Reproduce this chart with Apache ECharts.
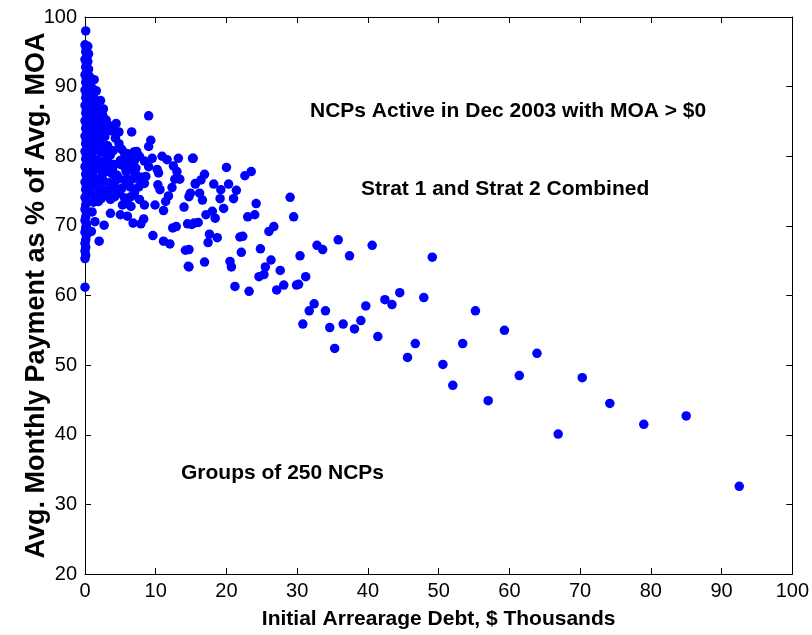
<!DOCTYPE html>
<html><head><meta charset="utf-8">
<script src="https://cdn.jsdelivr.net/npm/echarts@6/dist/echarts.min.js"></script>
<style>html,body{margin:0;padding:0;background:#fff}#c{width:812px;height:635px}</style>
</head><body><div id="c"></div>
<script>
// Tick labels
const xTicks = [0,10,20,30,40,50,60,70,80,90,100];
const yTicks = [20,30,40,50,60,70,80,90,100];

// Column of groups with nearly zero initial debt [debt $K, pct]
const stripPoints = [
 [0.1,98.0],[0.0,96.0],[0.2,95.5],[0.1,95.0],[0.3,94.4],[0.0,93.9],[0.2,93.3],[0.1,92.8],[0.3,92.2],[0.0,91.7],
 [0.2,91.1],[0.1,90.6],[0.3,90.0],[0.0,89.5],[0.2,88.9],[0.1,88.4],[0.3,87.8],[0.0,87.3],[0.2,86.7],[0.1,86.2],
 [0.3,85.6],[0.0,85.1],[0.2,84.5],[0.1,84.0],[0.3,83.4],[0.0,82.9],[0.2,82.3],[0.1,81.8],[0.3,81.2],[0.0,80.7],
 [0.2,80.1],[0.1,79.6],[0.3,79.0],[0.0,78.5],[0.2,77.9],[0.1,77.4],[0.3,76.8],[0.0,76.3],[0.2,75.7],[0.1,75.2],
 [0.3,74.6],[0.0,74.1],[0.2,73.5],[0.1,73.0],[0.0,72.4],[0.2,71.9],[0.1,71.3],[0.0,70.8],[0.2,70.2],[0.1,69.7],
 [0.0,69.1],[0.2,68.6],[0.1,68.0],[0.0,67.5],[0.1,66.9],[0.0,66.4],[0.1,65.8],[0.0,65.3],[0.0,61.2],
 [0.4,95.8],[0.5,94.7],[0.4,93.6],[0.5,92.5],[0.6,91.4],[0.4,90.3],[0.6,89.2],[0.5,88.1],[0.4,87.0],[0.5,85.9],
 [0.6,84.8],[0.4,83.7],[0.5,82.6],[0.6,81.5],[0.4,80.4],[0.5,79.3],[0.6,78.2],[0.4,77.1],[0.5,76.0],[0.4,74.9]
];

// Dense cloud at low debt
const densePoints = [
 [0.6,91.5],[0.8,90.6],[1.0,89.8],[0.7,89.0],[1.2,88.6],[0.9,88.0],[1.5,87.5],[0.6,87.2],[1.1,86.8],[1.8,86.2],
 [0.8,86.0],[1.4,85.6],[2.0,85.4],[0.7,85.0],[1.2,84.6],[1.7,84.2],[2.4,84.0],[0.9,83.8],[1.5,83.4],[2.1,83.0],
 [2.8,82.8],[0.6,82.6],[1.1,82.3],[1.8,82.0],[2.5,81.8],[3.2,81.5],[0.8,81.2],[1.4,80.9],[2.2,80.6],[2.9,80.4],
 [3.6,80.2],[0.6,80.0],[1.2,79.7],[1.9,79.4],[2.6,79.2],[3.4,79.0],[4.1,78.8],[0.9,78.6],[1.6,78.3],[2.3,78.0],
 [3.0,77.8],[3.8,77.5],[4.5,77.3],[0.7,77.2],[1.3,76.9],[2.0,76.6],[2.7,76.4],[3.5,76.2],[1.0,75.8],[1.7,75.5],
 [2.5,75.2],[3.3,75.0],[0.8,74.6],[1.5,74.2],[2.3,73.9],[1.2,73.4],[1.3,91.0],[1.6,89.4],[2.2,88.0],[2.6,86.8],
 [3.0,85.2],[3.4,84.4],[3.9,83.6],[4.3,82.6],[4.8,81.8],[5.2,81.0],[5.6,80.4],[4.0,80.8],[3.0,83.5],[2.7,84.8],
 [5.0,79.4],[5.5,78.6],[6.1,79.0],[4.8,76.8],[5.8,77.8],[6.6,78.0],[7.0,79.4],[3.9,78.2],[4.2,75.6],[5.2,75.4],
 [5.8,76.2],[6.4,75.6],[7.2,77.4],[2.8,74.6],[3.6,73.8],[4.6,74.8],[5.6,74.0],[6.0,73.2],[7.0,74.8],[7.6,75.6],
 [8.0,77.0],[6.8,76.8],[1.9,73.5],[2.0,67.8],[2.7,70.1],[3.6,71.8],[2.1,86.5],[2.5,85.9],[2.9,84.0],[4.4,84.7],
 [4.8,83.5],[6.6,83.5],[9.0,85.8],[9.3,82.3],[9.0,81.4],[9.5,79.7],[7.3,80.7],[5.9,80.4],[6.1,78.8],[6.9,80.6],
 [7.7,80.0],[6.0,80.0],[5.1,78.8],[7.2,78.3],[10.2,78.1],[10.4,77.6],[8.6,77.1],[7.8,76.6],[5.9,76.7],[8.4,76.1],
 [10.3,75.9],[10.6,75.2],[4.4,76.6],[3.7,75.7],[2.1,75.2],[1.8,73.5],[9.0,78.5],[8.4,79.3],[4.9,74.7],[4.2,74.2],
 [6.5,74.2],[7.7,73.8],[5.3,73.0],[6.5,72.8],[8.4,73.0],[9.9,73.0],[11.1,72.2],[11.4,73.5],[6.0,71.4],[5.0,71.6],
 [8.3,71.0],[7.9,70.3],[6.8,70.4],[9.6,68.6],[11.1,67.8],[12.0,67.4],[1.0,72.0],[1.4,70.6],[0.9,69.2],
 [1.0,85.3],[1.5,82.8],[1.0,80.8],[2.0,81.3],[1.3,78.0],[2.4,77.2],[1.6,86.9],[0.9,84.3],[3.2,79.8],[2.7,78.6]
];

// Mid-range spread
const spreadPoints = [
 [11.6,79.5],[13.2,79.7],[15.2,79.7],[13.0,77.8],[13.4,76.7],[12.7,76.7],[15.6,76.1],[14.9,74.7],[14.7,74.2],[14.0,72.7],
 [15.4,70.4],[14.5,70.3],[12.9,69.9],[12.4,69.7],[14.2,66.5],[14.6,64.2],[15.3,79.7],[20.0,78.4],[22.6,77.2],[23.5,77.8],
 [16.9,77.4],[16.4,76.6],[15.6,76.0],[16.2,74.7],[16.6,73.7],[18.2,76.0],[19.2,75.2],[20.3,76.0],[21.4,75.1],[19.1,73.9],
 [21.0,73.9],[24.2,73.2],[19.6,72.5],[29.0,74.1],[29.5,71.3],[17.1,71.6],[18.0,72.1],[18.4,71.1],[23.0,71.3],[24.0,71.6],
 [16.0,70.5],[15.1,70.2],[26.0,69.2],[26.7,69.9],[17.6,68.8],[18.7,68.3],[17.4,67.6],[21.9,68.4],[22.3,68.5],[24.8,66.7],
 [22.1,66.2],[14.7,66.6],[16.9,64.8],[14.7,64.1],[20.5,64.9],[20.7,64.1],[26.3,65.1],[25.5,64.1],[27.6,63.6],[24.6,62.7],
 [25.3,63.0],[21.2,61.3],[23.2,60.6],[27.1,60.8],[28.1,61.5],[29.9,61.5],[12.3,75.5],[11.8,74.3],[12.5,78.6],[10.9,80.0]
];

// High-debt tail
const tailPoints = [
 [35.8,68.0],[32.8,67.2],[33.6,66.6],[30.4,65.7],[37.4,65.7],[40.6,67.2],[49.1,65.5],[31.2,62.7],[30.2,61.6],[32.4,58.8],
 [31.7,57.8],[34.0,57.8],[30.8,55.9],[34.6,55.4],[36.5,55.9],[38.1,55.2],[39.0,56.4],[39.7,58.5],[35.3,52.4],[41.4,54.1],
 [42.4,59.4],[43.4,58.7],[44.5,60.4],[47.9,59.7],[46.7,53.1],[45.6,51.1],[50.6,50.1],[53.4,53.1],[55.2,57.8],[59.3,55.0],
 [52.0,47.1],[57.0,44.9],[63.9,51.7],[61.4,48.5],[70.3,48.2],[74.2,44.5],[66.9,40.1],[79.0,41.5],[85.0,42.7],[92.5,32.6]
];

const allPoints = stripPoints.concat(densePoints, spreadPoints, tailPoints);

const chart = echarts.init(document.getElementById('c'));
const black = '#000';
const sans = '"Liberation Sans", Arial, Helvetica, sans-serif';
const baseAxis = {
  min: 0, max: 100, interval: 10,
  axisLine: {show: true, onZero: false, lineStyle: {color: black, width: 1}},
  axisTick: {show: true, inside: true, length: 6, lineStyle: {color: black}},
  splitLine: {show: false}
};
chart.setOption({
  animation: false,
  backgroundColor: '#fff',
  grid: {left: 85, right: 15, top: 17, bottom: 61},
  xAxis: [
    Object.assign({}, baseAxis, {
      position: 'bottom',
      axisLabel: {color: black, fontFamily: sans, fontSize: 20, margin: 7,
        formatter: v => xTicks.includes(v) ? String(v) : ''},
      name: 'Initial Arrearage Debt, $ Thousands', nameLocation: 'middle', nameGap: 35,
      nameMoveOverlap: false,
      nameTextStyle: {color: black, fontFamily: sans, fontWeight: 'bold', fontSize: 21}
    }),
    Object.assign({}, baseAxis, {position: 'top', axisLabel: {show: false}})
  ],
  yAxis: [
    Object.assign({}, baseAxis, {
      min: 20, max: 100,
      position: 'left',
      axisLabel: {color: black, fontFamily: sans, fontSize: 20, margin: 8,
        formatter: v => yTicks.includes(v) ? String(v) : ''},
      name: 'Avg. Monthly Payment as % of Avg. MOA', nameLocation: 'middle', nameGap: 35,
      nameMoveOverlap: false,
      nameTextStyle: {color: black, fontFamily: sans, fontWeight: 'bold', fontSize: 27}
    }),
    Object.assign({}, baseAxis, {min: 20, max: 100, position: 'right', axisLabel: {show: false}})
  ],
  graphic: [
    {type: 'text', left: 310, top: 101, style: {text: 'NCPs Active in Dec 2003 with MOA > $0',
      fill: black, font: 'bold 21px "Liberation Sans", Arial, sans-serif'}},
    {type: 'text', left: 361, top: 179, style: {text: 'Strat 1 and Strat 2 Combined',
      fill: black, font: 'bold 21px "Liberation Sans", Arial, sans-serif'}},
    {type: 'text', left: 181, top: 463, style: {text: 'Groups of 250 NCPs',
      fill: black, font: 'bold 21px "Liberation Sans", Arial, sans-serif'}}
  ],
  series: [{
    type: 'scatter',
    xAxisIndex: 0, yAxisIndex: 0,
    data: allPoints,
    symbol: 'circle', symbolSize: 9.5,
    itemStyle: {color: '#0000FF', opacity: 1},
    clip: false
  }]
});
</script></body></html>
